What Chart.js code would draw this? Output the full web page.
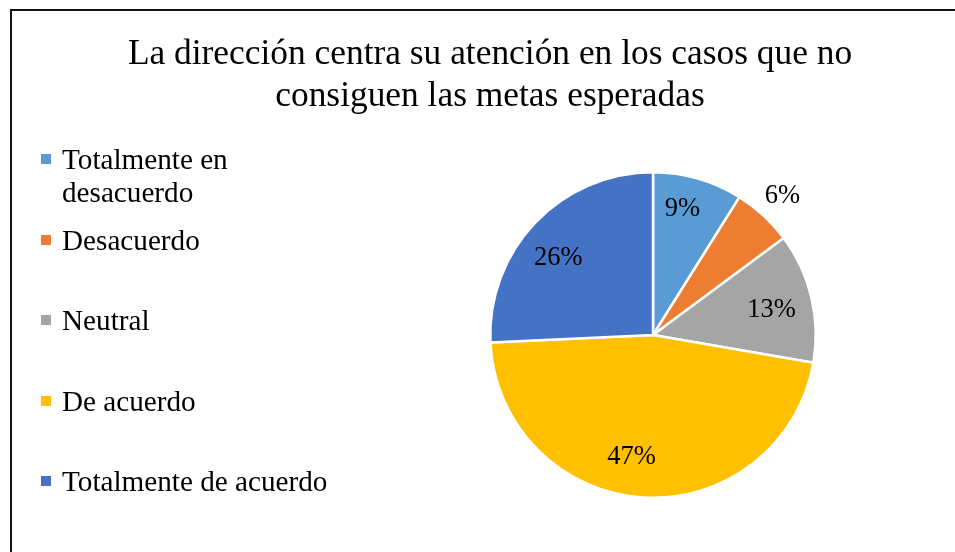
<!DOCTYPE html>
<html lang="es">
<head>
<meta charset="utf-8">
<title>La dirección centra su atención</title>
<script src="https://cdn.jsdelivr.net/npm/chart.js@4.4.1/dist/chart.umd.min.js"></script>
<style>
    html, body { margin: 0; padding: 0; background: #fff; }
    #wrap { position: relative; width: 955px; height: 552px; overflow: hidden; font-family: "Liberation Serif", "Times New Roman", serif; color: #000; }
    #frame { position: absolute; left: 10px; top: 9px; width: 960px; height: 560px; border-left: 2px solid #111; border-top: 2px solid #111; }
    #pie { position: absolute; left: 0; top: 0; }
    #title { position: absolute; left: 490px; top: 31px; transform: translateX(-50%); white-space: nowrap; text-align: center; font-size: 35.4px; line-height: 42px; }
    .legend-item { position: absolute; left: 41px; width: 290px; font-size: 29.2px; line-height: 32.5px; padding-left: 21px; }
    .legend-item .box { position: absolute; left: 0; top: 11px; width: 10px; height: 10px; }
</style>
</head>
<body>
<div id="wrap">
    <div id="frame"></div>
    <canvas id="pie" width="955" height="552"></canvas>
    <div id="title"></div>
    <div id="legend"></div>
</div>
<script>
// Chart data
const titleLines = ['La dirección centra su atención en los casos que no', 'consiguen las metas esperadas'];
const categories = ['Totalmente en desacuerdo', 'Desacuerdo', 'Neutral', 'De acuerdo', 'Totalmente de acuerdo'];
const values = [9, 6, 13, 47, 26];
const percentLabels = ['9%', '6%', '13%', '47%', '26%'];
const colors = ['#5B9BD5', '#ED7D31', '#A5A5A5', '#FFC000', '#4472C4'];

// Label placement (radius fraction, angle nudge in degrees)
const labelRadius = [0.80, 1.17, 0.745, 0.755, 0.755];
const labelNudge = [-3, 0, 1, 6.5, -4];

/**
 * Build title and legend
 */
function renderTitle() {
    document.getElementById('title').innerHTML = titleLines.join('<br>');
}

function renderLegend() {
    const legend = document.getElementById('legend');
    legend.innerHTML = '';
    categories.forEach((name, i) => {
        const item = document.createElement('div');
        item.className = 'legend-item';
        item.style.top = (143 + 80.5 * i) + 'px';
        item.innerHTML = `<span class="box" style="background:${colors[i]}"></span>${name}`;
        legend.appendChild(item);
    });
}

// Draw percentage labels on the slices
const sliceLabels = {
    id: 'sliceLabels',
    afterDatasetsDraw(chart) {
        const ctx = chart.ctx;
        const meta = chart.getDatasetMeta(0);
        ctx.save();
        ctx.font = '26.5px "Liberation Serif", "Times New Roman", serif';
        ctx.fillStyle = '#000';
        ctx.textAlign = 'center';
        ctx.textBaseline = 'middle';
        meta.data.forEach((arc, i) => {
            const p = arc.getProps(['x', 'y', 'startAngle', 'endAngle', 'outerRadius'], true);
            const mid = (p.startAngle + p.endAngle) / 2 + labelNudge[i] * Math.PI / 180;
            const r = p.outerRadius * labelRadius[i];
            ctx.fillText(percentLabels[i], p.x + Math.cos(mid) * r, p.y + Math.sin(mid) * r + 1);
        });
        ctx.restore();
    }
};

function initChart() {
    const ctx = document.getElementById('pie').getContext('2d');
    new Chart(ctx, {
        type: 'pie',
        data: {
            labels: categories,
            datasets: [{
                data: values,
                backgroundColor: colors,
                borderColor: '#ffffff',
                borderWidth: 2.5
            }]
        },
        options: {
            responsive: false,
            animation: false,
            layout: {
                padding: { left: 489, top: 171, right: 138, bottom: 53 }
            },
            plugins: {
                legend: { display: false },
                title: { display: false },
                tooltip: { enabled: false }
            }
        },
        plugins: [sliceLabels]
    });
}

renderTitle();
renderLegend();
initChart();
</script>
</body>
</html>
